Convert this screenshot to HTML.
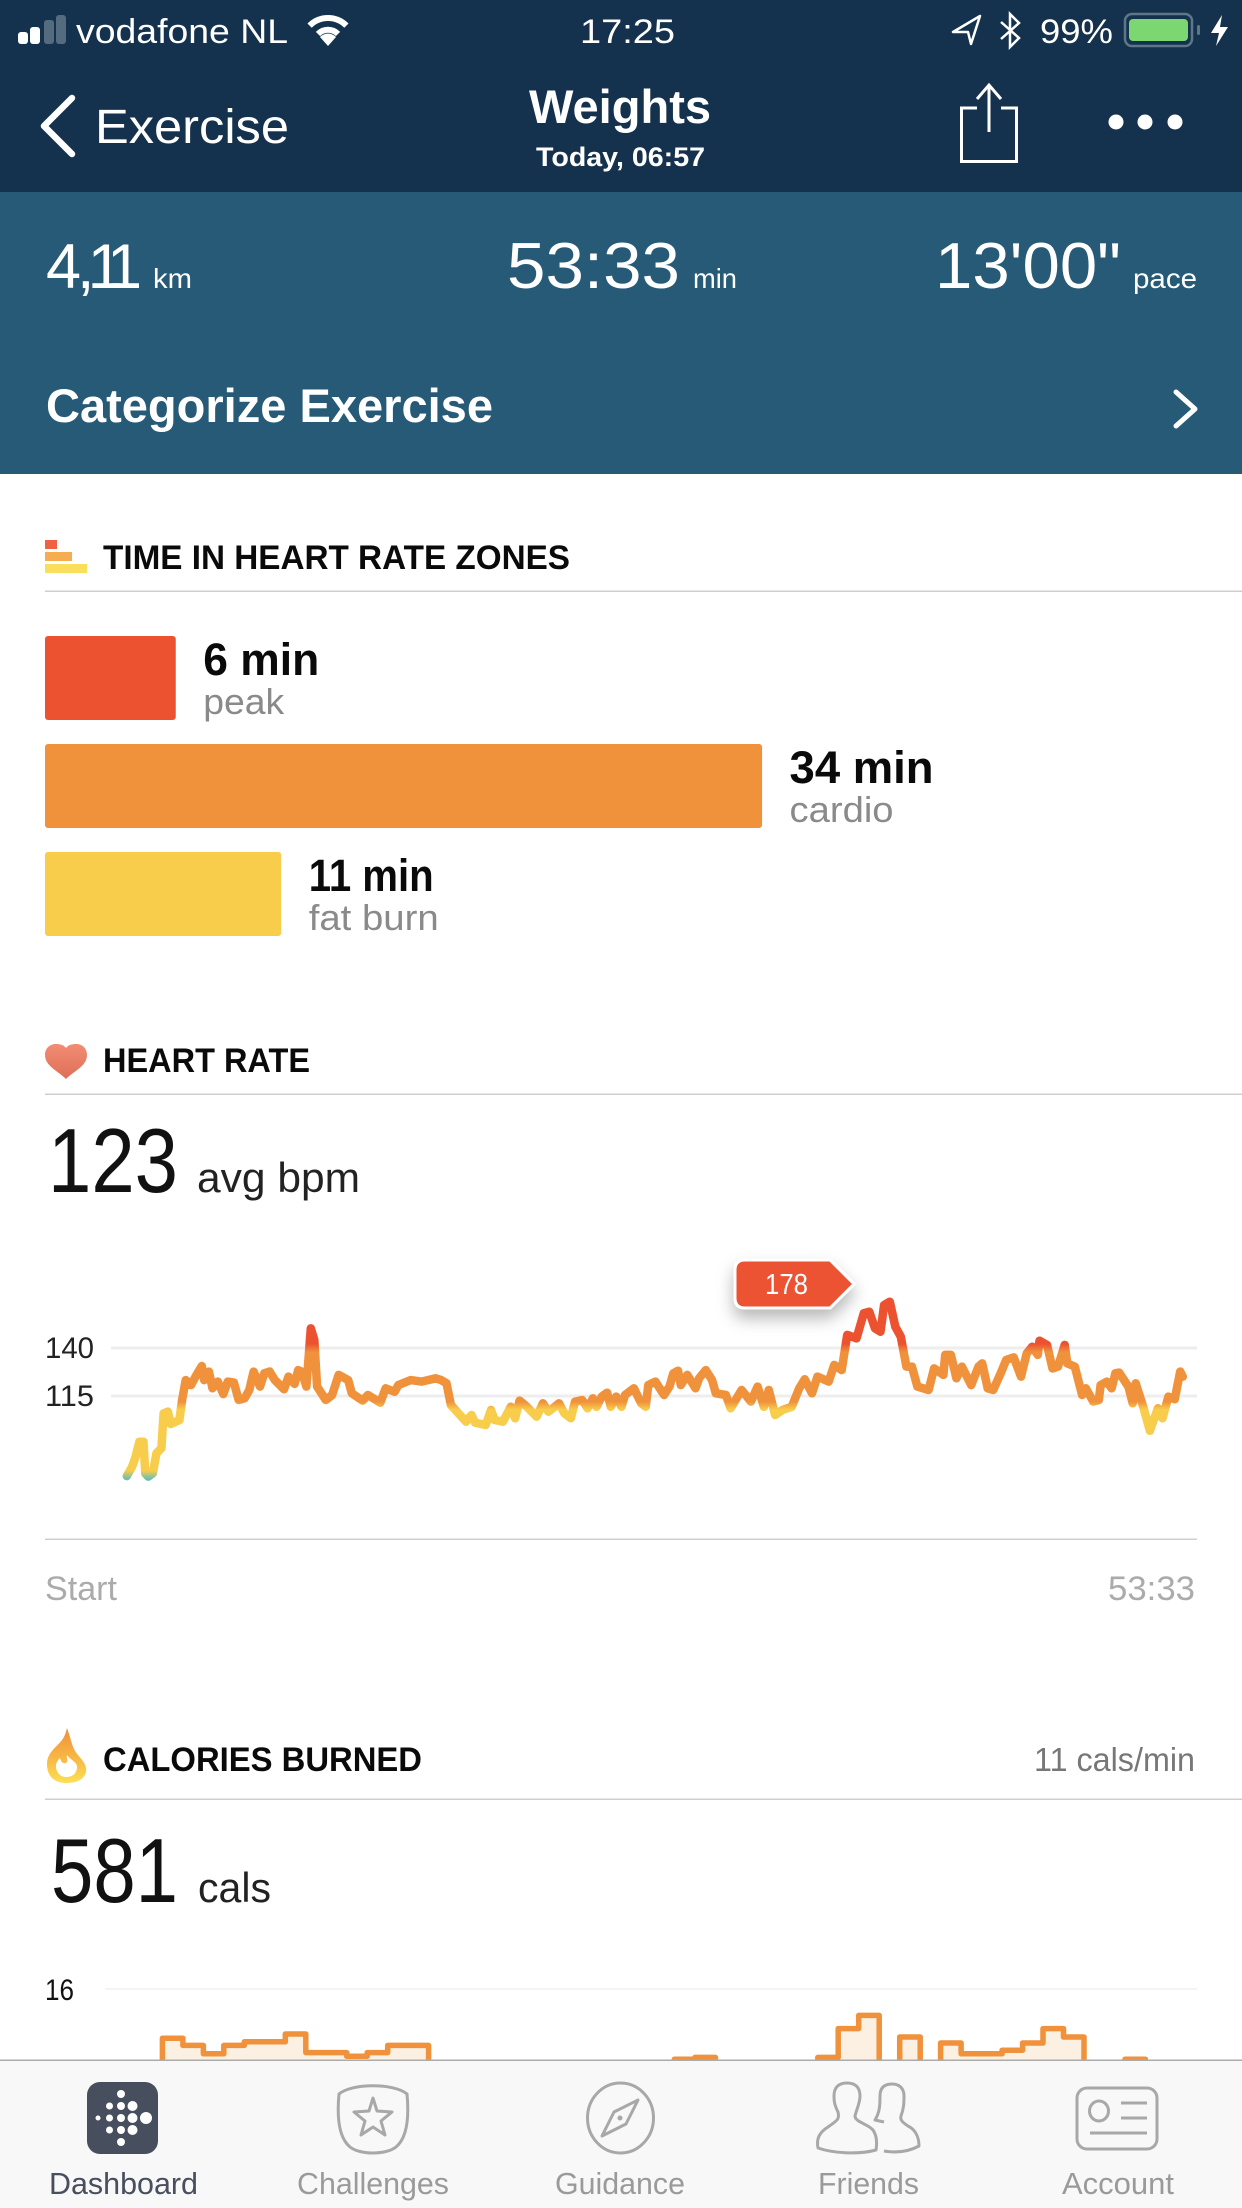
<!DOCTYPE html>
<html lang="en">
<head>
<meta charset="utf-8">
<title>Weights exercise detail</title>
<style>
html,body{margin:0;padding:0;background:#fff;width:1242px;height:2208px;overflow:hidden}
svg{display:block;font-family:"Liberation Sans",sans-serif}
</style>
</head>
<body>
<svg id="page" xmlns="http://www.w3.org/2000/svg" width="1242" height="2208" viewBox="0 0 1242 2208">
<defs>
<linearGradient id="heartGrad" x1="0" y1="0" x2="0" y2="1"><stop offset="0" stop-color="#F28C74"/><stop offset="1" stop-color="#DE6F57"/></linearGradient>
<linearGradient id="flameGrad" x1="0" y1="0" x2="0" y2="1"><stop offset="0" stop-color="#EF8E3C"/><stop offset="0.55" stop-color="#F7B845"/><stop offset="1" stop-color="#FCE052"/></linearGradient>
<filter id="calloutShadow" x="-30%" y="-30%" width="160%" height="190%"><feDropShadow dx="0" dy="9" stdDeviation="8" flood-color="#000" flood-opacity="0.28"/></filter>
<linearGradient id="hrGrad" gradientUnits="userSpaceOnUse" x1="0" x2="0" y1="1240" y2="1500"></linearGradient>
</defs>

<rect x="0" y="0" width="1242" height="2208" fill="#fff"/>
<rect x="0" y="0" width="1242" height="192" fill="#14324D"/>
<rect x="0" y="192" width="1242" height="282" fill="#265A76"/>

<g>
<rect x="18" y="32" width="10" height="12" rx="3" fill="#fff"/><rect x="30" y="27" width="10" height="17" rx="3" fill="#fff"/>
<rect x="44" y="20" width="10" height="24" rx="3" fill="#556C80"/><rect x="56" y="15" width="10" height="29" rx="3" fill="#556C80"/>
</g>
<text x="76" y="43" font-size="34" fill="#fff" textLength="212" lengthAdjust="spacingAndGlyphs">vodafone NL</text>
<g fill="none" stroke="#fff" stroke-width="6">
<path d="M309.600,25.600 A26,26 0 0 1 346.400,25.600"/><path d="M318,34 A14,14 0 0 1 338,34"/><path d="M320,37 L328,46 L336,37 A11,11 0 0 0 320,37Z" fill="#fff" stroke="none"/>
</g>
<text x="580" y="43" font-size="34" fill="#fff" textLength="95" lengthAdjust="spacingAndGlyphs">17:25</text>
<path d="M980,16 L953,32 L968,32 L971,44 Z" fill="none" stroke="#fff" stroke-width="2.500" stroke-linejoin="round"/>
<path d="M1001,22 L1019,38 L1010,47 L1010,14 L1019,23 L1001,39" fill="none" stroke="#fff" stroke-width="2.500"/>
<text x="1040" y="43" font-size="34" fill="#fff" textLength="73" lengthAdjust="spacingAndGlyphs">99%</text>
<g>
<rect x="1125" y="14" width="67" height="32" rx="7" fill="none" stroke="#5E7688" stroke-width="2.500"/>
<rect x="1129" y="19" width="59" height="22" rx="4" fill="#7CD672"/>
<rect x="1197" y="25" width="3" height="10" rx="1.500" fill="#5E7688"/>
<path d="M1222,15 L1211,33 L1219,33 L1216,46 L1228,27 L1220,27 Z" fill="#fff"/>
</g>

<path d="M72,98 L44,126 L72,154" fill="none" stroke="#fff" stroke-width="6.500" stroke-linecap="round" stroke-linejoin="round"/>
<text x="95" y="143" font-size="48" fill="#fff" textLength="194" lengthAdjust="spacingAndGlyphs">Exercise</text>
<text x="529" y="123" font-size="47" font-weight="700" fill="#fff" textLength="182" lengthAdjust="spacingAndGlyphs">Weights</text>
<text x="536" y="166" font-size="27" font-weight="700" fill="#fff" textLength="169" lengthAdjust="spacingAndGlyphs">Today, 06:57</text>
<g fill="none" stroke="#fff" stroke-width="3">
<path d="M977,108 L961.500,108 L961.500,161.500 L1016.500,161.500 L1016.500,108 L1001,108"/>
<path d="M989,132 L989,85 M977,99 L989,85 L1001,99"/>
</g>
<g fill="#fff"><ellipse cx="1116" cy="122" rx="7.500" ry="7.500"/><ellipse cx="1145" cy="122" rx="7.500" ry="7.500"/><ellipse cx="1175" cy="122" rx="7.500" ry="7.500"/></g>

<g fill="#fff">
<text x="46" y="288" font-size="63" dx="0 -4 -7 -11">4,11</text>
<text x="153" y="288" font-size="28" textLength="39" lengthAdjust="spacingAndGlyphs">km</text>
<text x="507" y="288" font-size="65" textLength="173" lengthAdjust="spacingAndGlyphs">53:33</text>
<text x="693" y="288" font-size="28" textLength="44" lengthAdjust="spacingAndGlyphs">min</text>
<text x="935" y="288" font-size="65" textLength="186" lengthAdjust="spacingAndGlyphs">13'00"</text>
<text x="1133" y="288" font-size="28" textLength="64" lengthAdjust="spacingAndGlyphs">pace</text>
</g>
<text x="46" y="422" font-size="47" font-weight="700" fill="#fff" textLength="447" lengthAdjust="spacingAndGlyphs">Categorize Exercise</text>
<path d="M1176,392 L1195,409 L1176,426" fill="none" stroke="#fff" stroke-width="5" stroke-linecap="round" stroke-linejoin="round"/>

<g>
<rect x="45" y="540" width="12" height="9" fill="#EF6045"/><rect x="45" y="552" width="27" height="9" fill="#F6AD52"/><rect x="45" y="564" width="42" height="9" fill="#FADF5D"/>
</g>
<text x="103" y="569" font-size="34" font-weight="700" fill="#0a0a0a" textLength="467" lengthAdjust="spacingAndGlyphs">TIME IN HEART RATE ZONES</text>
<rect x="45" y="590.500" width="1197" height="1.500" fill="#CFCFCF"/>
<g id="zonesChart"></g>

<path d="M66,1079 C58,1071 45,1066 45,1055 C45,1048 50,1044 56,1044 C60,1044 64,1045 66,1048 C68,1045 72,1044 76,1044 C82,1044 87,1048 87,1055 C87,1066 74,1071 66,1079 Z" fill="url(#heartGrad)"/>
<text x="103" y="1072" font-size="34" font-weight="700" fill="#0a0a0a" textLength="207" lengthAdjust="spacingAndGlyphs">HEART RATE</text>
<rect x="45" y="1093.500" width="1197" height="1.500" fill="#CFCFCF"/>
<text x="48" y="1192" font-size="91" fill="#111" textLength="130" lengthAdjust="spacingAndGlyphs">123</text>
<text x="197" y="1192" font-size="42" fill="#222" textLength="163" lengthAdjust="spacingAndGlyphs">avg bpm</text>

<g id="hrChart"></g>

<rect x="45" y="1538.500" width="1152" height="1.500" fill="#CFCFCF"/>
<text x="45" y="1600" font-size="34" fill="#ABABAB" textLength="72" lengthAdjust="spacingAndGlyphs">Start</text>
<text x="1108" y="1600" font-size="34" fill="#ABABAB" textLength="87" lengthAdjust="spacingAndGlyphs">53:33</text>

<g>
<path d="M745,1260 L830,1260 L854,1284 L830,1308 L745,1308 Q735,1308 735,1298 L735,1270 Q735,1260 745,1260 Z" fill="#EC5230" stroke="#fff" stroke-width="3" filter="url(#calloutShadow)"/>
<text x="765" y="1294" font-size="29" fill="#fff" textLength="43" lengthAdjust="spacingAndGlyphs">178</text>
</g>

<g>
<path d="M67,1728 C72,1742 72,1748 78,1755 C84,1762 87,1766 86,1772 C84,1780 76,1783 66,1783 C54,1783 47,1776 47,1764 C47,1752 58,1746 62,1740 C65,1736 66,1732 67,1728 Z" fill="url(#flameGrad)"/>
<path d="M67,1755 C70,1760 78,1762 77,1768 C76,1775 71,1777 66,1777 C60,1777 56,1772 56,1766 C56,1763 58,1760 60,1758 C61,1762 63,1764 66,1763 C69,1761 66,1758 67,1755 Z" fill="#fff"/>
</g>
<text x="103" y="1771" font-size="34" font-weight="700" fill="#0a0a0a" textLength="319" lengthAdjust="spacingAndGlyphs">CALORIES BURNED</text>
<text x="1034" y="1771" font-size="33" fill="#777" textLength="161" lengthAdjust="spacingAndGlyphs">11 cals/min</text>
<rect x="45" y="1798.500" width="1197" height="1.500" fill="#CFCFCF"/>
<text x="51" y="1902" font-size="91" fill="#111" textLength="127" lengthAdjust="spacingAndGlyphs">581</text>
<text x="198" y="1902" font-size="42" fill="#222" textLength="73" lengthAdjust="spacingAndGlyphs">cals</text>

<g id="calChart"></g>

<rect x="0" y="2060" width="1242" height="148" fill="#F8F8F8"/>
<rect x="0" y="2059.500" width="1242" height="1.500" fill="#ABABAB"/>

<g>
<rect x="87" y="2082" width="71" height="72" rx="13" fill="#474E5D"/>
<g fill="#fff">
<circle cx="98" cy="2118" r="2.500"/>
<circle cx="109.500" cy="2106" r="3.500"/><circle cx="109.500" cy="2118" r="3.500"/><circle cx="109.500" cy="2130" r="3.500"/>
<circle cx="121" cy="2094" r="4"/><circle cx="121" cy="2106" r="4"/><circle cx="121" cy="2118" r="4"/><circle cx="121" cy="2130" r="4"/><circle cx="121" cy="2142" r="4"/>
<circle cx="132.500" cy="2106" r="5"/><circle cx="132.500" cy="2118" r="5"/><circle cx="132.500" cy="2130" r="5"/>
<circle cx="146" cy="2118" r="6"/>
</g>
<text x="49" y="2194" font-size="31" fill="#474E5D" textLength="149" lengthAdjust="spacingAndGlyphs">Dashboard</text>
</g>
<g>
<path d="M339,2094 C352,2083 394,2083 407,2094 C409,2115 408,2137 396,2147 C386,2155 360,2155 350,2147 C338,2137 337,2115 339,2094 Z" fill="none" stroke="#A8A8A8" stroke-width="3"/>
<path d="M373,2098 L377,2111 L392,2112 L381,2121 L385,2135 L373,2127 L361,2135 L365,2121 L354,2112 L369,2111 Z" fill="none" stroke="#A8A8A8" stroke-width="3" stroke-linejoin="round"/>
<text x="297" y="2194" font-size="31" fill="#9A9A9A" textLength="152" lengthAdjust="spacingAndGlyphs">Challenges</text>
</g>
<g>
<ellipse cx="620.500" cy="2118" rx="33" ry="35" fill="none" stroke="#A8A8A8" stroke-width="3"/>
<path d="M638,2100 L626,2124 L602,2136 L614,2112 Z" fill="none" stroke="#A8A8A8" stroke-width="3" stroke-linejoin="round"/>
<circle cx="620" cy="2118" r="2.500" fill="#A8A8A8"/>
<text x="555" y="2194" font-size="31" fill="#9A9A9A" textLength="130" lengthAdjust="spacingAndGlyphs">Guidance</text>
</g>
<g fill="none" stroke="#A8A8A8" stroke-width="3" stroke-linejoin="round">
<path d="M818,2148 C816,2138 820,2132 828,2127 C836,2121 840,2120 838,2112 C834,2104 834,2100 834,2096 C834,2087 839,2083 847,2083 C855,2083 860,2087 860,2096 C860,2103 857,2108 855,2116 C855,2122 868,2124 873,2130 C877,2136 877,2144 876,2150 C858,2155 832,2153 818,2148 Z"/>
<path d="M884,2151 C896,2153 908,2152 919,2146 C919,2138 916,2130 908,2126 C902,2122 900,2120 901,2116 C904,2108 904,2102 904,2096 C904,2088 899,2084 892,2084 C884,2084 880,2088 880,2096 C880,2104 880,2112 875,2120 L884,2122"/>
<text x="818" y="2194" font-size="31" fill="#9A9A9A" stroke="none" textLength="101" lengthAdjust="spacingAndGlyphs">Friends</text>
</g>
<g>
<rect x="1077" y="2088" width="80" height="61" rx="10" fill="none" stroke="#A8A8A8" stroke-width="3"/>
<ellipse cx="1099" cy="2111" rx="9.500" ry="10" fill="none" stroke="#A8A8A8" stroke-width="3"/>
<rect x="1121" y="2101.500" width="26" height="3" fill="#A8A8A8"/><rect x="1121" y="2116.500" width="26" height="3" fill="#A8A8A8"/><rect x="1090" y="2131.500" width="57" height="3" fill="#A8A8A8"/>
<text x="1062" y="2194" font-size="31" fill="#9A9A9A" textLength="112" lengthAdjust="spacingAndGlyphs">Account</text>
</g>
</svg>

<script>
/* ---------- Time in heart rate zones ---------- */
const zoneNames = ["peak", "cardio", "fat burn"];
const zoneMinutes = [6.2, 34, 11.2];
const zoneColors = ["#EC5230", "#F0913C", "#F8CD4B"];

/* ---------- Heart rate series ---------- */
const hrMinutes = [0.09,0.36,0.54,0.73,0.94,1.03,1.18,1.41,1.6,1.85,1.96,2.18,2.32,2.76,2.9,3.08,3.35,3.63,3.9,4.02,4.26,4.44,4.71,4.99,5.22,5.53,5.77,6.07,6.31,6.53,6.85,7.07,7.34,7.61,8.07,8.3,8.61,8.79,8.97,9.21,9.43,9.61,9.75,10.19,10.51,10.84,11.33,11.51,12.06,12.33,12.96,13.23,13.69,13.87,14.5,15.05,15.77,16.05,16.32,16.54,17.31,17.59,17.77,18.31,18.58,18.76,19.18,19.58,19.8,20.03,20.4,20.89,21.21,21.49,22.03,22.3,22.63,22.84,23.2,23.48,23.75,23.93,24.2,24.47,24.66,24.93,25.2,25.38,25.83,26.2,26.43,26.56,26.92,27.36,27.64,27.83,28.07,28.21,28.54,28.96,29.14,29.48,29.8,29.99,30.5,30.74,31.3,31.77,32.11,32.43,32.68,33,33.37,33.84,34.22,34.5,34.87,35.15,35.72,36,36.38,36.66,37.13,37.5,37.78,38.07,38.35,38.53,38.82,39.1,39.38,39.66,39.94,40.22,40.79,41.07,41.54,41.63,41.92,42.2,42.48,42.95,43.32,43.51,43.79,44.07,44.45,44.73,45.11,45.48,45.77,46.05,46.33,46.42,46.8,47.08,47.36,47.7,47.83,48.21,48.58,48.77,49.15,49.43,49.52,49.84,50.08,50.27,50.46,50.93,51.15,51.3,51.68,52.02,52.43,52.66,52.96,53.28,53.56,53.69];
const hrBpm = [73.3,78.2,83.4,91.2,91.2,74.7,73,74.7,85.2,87.8,106,106.8,100.4,102.5,112.9,123.3,120.7,126,130.6,123.3,127.7,119,122.5,116,122.5,122,112.9,113.8,118.1,127.7,119.9,126.8,127.7,123.3,118.5,125.1,121.3,128.5,127.7,119.9,150.2,144.2,119.9,112.9,115.5,126,123.3,116.4,112.6,115.5,111.5,119,117.2,120.7,123.3,122.5,124.2,123.3,121.6,110.3,101.6,105.1,101.1,99.9,107.7,102.5,101.6,109.4,103.4,112.6,109.4,104.2,111.2,106.8,111.2,106,103.4,112,112.9,108.6,113.8,109.4,114.7,116.7,109.4,114.7,109.4,115.5,119,111.2,109.4,120.7,122.5,115.5,119.9,126.8,128.2,120.7,126,119,124.2,128.5,123.3,116.4,115.5,108.6,118.1,112.1,119.9,109.4,118.1,105.1,107.7,109.4,119,123.7,116.4,125.1,122.5,131.2,128.5,146.8,145,158.1,158.9,150.2,148.5,162.4,164.1,151.1,145.9,130.3,130.3,119.9,118.1,129.4,126,136.4,136.4,124.2,130.3,120.7,130.3,132,119,118.1,126.8,133.8,135.1,125.1,137.2,140.7,136.4,143.8,141.6,129.4,130.3,141.6,132,130.3,115.5,119,112.1,112.9,120.7,122.5,119,126.8,127.2,119.9,111.2,121.6,109.4,96.9,108.6,103.4,114.7,113.3,127.7,125.1];
const hrTicks = [140, 115];
const hrZoneLimits = [140, 110, 74];
const hrZoneColors = ["#EC5230", "#F0913C", "#F8CD4B", "#6EBFAF"];

/* ---------- Calories per minute series ---------- */
const calMinutes = [0,1,2,3,4,5,6,7,8,9,10,11,12,13,14,15,16,17,18,19,20,21,22,23,24,25,26,27,28,29,30,31,32,33,34,35,36,37,38,39,40,41,42,43,44,45,46,47,48,49,50,51,52];
const calValues = [6,8,11.9,11.3,10.6,11.3,11.6,11.6,12.25,10.7,10.7,10.4,10.7,11.3,11.3,9,8,8,7,7,8,9,8,8,9,8,9,10.15,10.3,9,8,8,9,9,10.3,12.7,13.8,8,12,9,11.5,10.6,10.6,10.9,11.5,12.7,12,9,9,10.15,9,8,9];
const calTicks = [16];

/* ---------- Axis functions ---------- */
function zoneWidth(m) { return m * 21.09; }
function hrX(t) { return 125 + t * 1055 / 53.55; }
function hrY(b) { return 1396 - (b - 115) * 1.92; }
function calX(i) { return 121.44 + i * 20.48; }
function calY(v) { return 1989 + (16 - v) * 12; }

const SVG_NS = "http://www.w3.org/2000/svg";
function make(tag, attrs, parent) {
  const el = document.createElementNS(SVG_NS, tag);
  Object.keys(attrs).forEach(function (k) { el.setAttribute(k, attrs[k]); });
  parent.appendChild(el);
  return el;
}

/* Zone bars */
const zonesChart = document.getElementById("zonesChart");
const zoneTextWidths = [[116, 81], [144, 104], [125, 130]];
zoneNames.forEach(function (name, i) {
  const top = 636 + i * 108;
  const w = zoneWidth(zoneMinutes[i]);
  const bar = make("rect", { x: 45, y: top, width: w, height: 84, rx: 3, fill: zoneColors[i] }, zonesChart);
  
  
  const lx = 45 + w + 27.5;
  const val = make("text", { x: lx, y: top + 39, "font-size": 45, "font-weight": 700, fill: "#0a0a0a", textLength: zoneTextWidths[i][0], lengthAdjust: "spacingAndGlyphs" }, zonesChart);
  val.textContent = Math.round(zoneMinutes[i]) + " min";
  
  
  const lab = make("text", { x: lx, y: top + 78, "font-size": 36, fill: "#8A8A8A", textLength: zoneTextWidths[i][1], lengthAdjust: "spacingAndGlyphs" }, zonesChart);
  lab.textContent = name;
  
  
});

/* Heart rate chart */
const hrChart = document.getElementById("hrChart");
hrTicks.forEach(function (tick) {
  const grid = make("rect", { x: 111, y: hrY(tick) - 1.5, width: 1086, height: 3, fill: "#EEEEEE" }, hrChart);
  
  
  const lab = make("text", { x: 45, y: hrY(tick) + 10, "font-size": 30, fill: "#222", textLength: 49, lengthAdjust: "spacingAndGlyphs" }, hrChart);
  lab.textContent = tick;
  
  
});

const hrGrad = document.getElementById("hrGrad");
const gradTop = 1240, gradBottom = 1500;
function addStop(y, color) {
  make("stop", { offset: (y - gradTop) / (gradBottom - gradTop), "stop-color": color }, hrGrad);
}
addStop(gradTop, hrZoneColors[0]);
hrZoneLimits.forEach(function (limit, i) {
  addStop(hrY(limit) - 4, hrZoneColors[i]);
  addStop(hrY(limit) + 4, hrZoneColors[i + 1]);
});
addStop(gradBottom, hrZoneColors[3]);

const hrPathD = hrBpm.map(function (b, i) {
  return (i ? "L" : "M") + hrX(hrMinutes[i]).toFixed(1) + "," + hrY(b).toFixed(1);
}).join(" ");
const hrLine = make("path", { d: hrPathD, fill: "none", stroke: "url(#hrGrad)", "stroke-width": 8.5, "stroke-linejoin": "round", "stroke-linecap": "round" }, hrChart);



/* Calories chart */
const calChart = document.getElementById("calChart");
calTicks.forEach(function (tick) {
  const grid = make("rect", { x: 105, y: calY(tick) - 0.75, width: 1092, height: 1.5, fill: "#EFEFF5" }, calChart);
  
  
  const lab = make("text", { x: 45, y: calY(tick) + 11, "font-size": 30, fill: "#111", textLength: 29, lengthAdjust: "spacingAndGlyphs" }, calChart);
  lab.textContent = tick;
  
  
});
let calD = "M" + calX(calMinutes[0]) + ",2230";
calValues.forEach(function (v, i) {
  calD += " L" + calX(calMinutes[i]).toFixed(1) + "," + calY(v).toFixed(1);
  calD += " L" + calX(calMinutes[i] + 1).toFixed(1) + "," + calY(v).toFixed(1);
});
calD += " L" + calX(calMinutes[calMinutes.length - 1] + 1).toFixed(1) + ",2230 Z";
const calArea = make("path", { d: calD, fill: "#FCF0E2", stroke: "#F0913C", "stroke-width": 5.5, "stroke-linejoin": "round" }, calChart);


</script>
</body>
</html>
